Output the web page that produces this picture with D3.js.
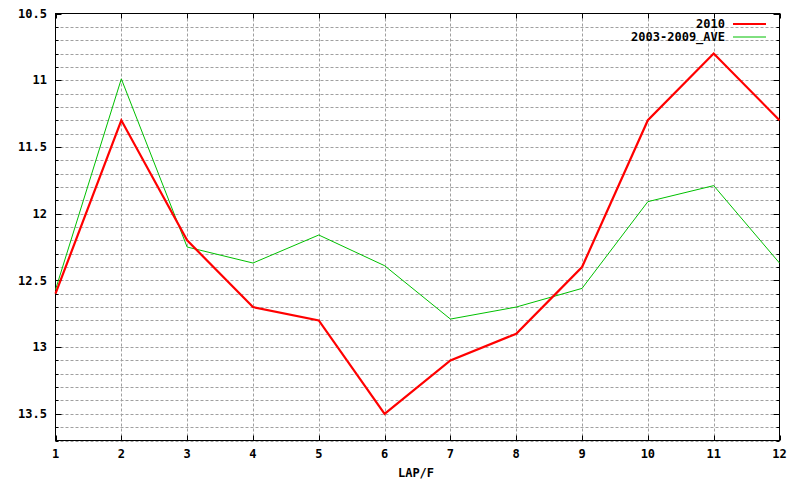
<!DOCTYPE html>
<html><head><meta charset="utf-8">
<script src="https://cdn.jsdelivr.net/npm/d3@7"></script>
<style>body{margin:0;background:#fff}text{font-family:"DejaVu Sans Mono",monospace;font-weight:bold;font-size:12px;fill:#000}</style>
</head><body><svg id="c" width="800" height="480"></svg>
<script>
const laps = [1,2,3,4,5,6,7,8,9,10,11,12];
const s2010 = [12.6,11.3,12.2,12.7,12.8,13.5,13.1,12.9,12.4,11.3,10.8,11.3];
const sAve = [12.57,10.99,12.25,12.37,12.16,12.39,12.79,12.70,12.56,11.91,11.79,12.37];
const yTicks = [10.5,11,11.5,12,12.5,13,13.5];
const seriesNames = ["2010","2003-2009_AVE"];

const svg = d3.select("#c");
const L=55.5, R=779.5, T=13.5, B=440.5;
const x = d3.scaleLinear().domain([1,12]).range([L,R]);
const y = d3.scaleLinear().domain([10.5,13.7]).range([T,B]);
const minor = d3.range(105,138).map(v=>v/10);

const g = svg.append("g");
// grid
g.selectAll(".hg").data(minor.filter(v=>v>10.5)).enter().append("line")
 .attr("x1",L).attr("x2",R).attr("y1",d=>Math.round(y(d))+0.5).attr("y2",d=>Math.round(y(d))+0.5)
 .attr("stroke","#a0a0a0").attr("stroke-dasharray","3,2");
g.selectAll(".vg").data(laps.slice(1,-1)).enter().append("line")
 .attr("y1",T).attr("y2",B).attr("x1",d=>Math.round(x(d))+0.5).attr("x2",d=>Math.round(x(d))+0.5)
 .attr("stroke","#a0a0a0").attr("stroke-dasharray","3,2");
// ticks
minor.forEach(v=>{
  const yy=Math.round(y(v))+0.5, len = yTicks.includes(v)?6:3;
  g.append("line").attr("x1",L).attr("x2",L+len).attr("y1",yy).attr("y2",yy).attr("stroke","#000");
  g.append("line").attr("x1",R-len).attr("x2",R).attr("y1",yy).attr("y2",yy).attr("stroke","#000");
});
laps.forEach(v=>{
  const xx=Math.round(x(v))+0.5;
  g.append("line").attr("x1",xx).attr("x2",xx).attr("y1",B).attr("y2",B-5).attr("stroke","#000");
  g.append("line").attr("x1",xx).attr("x2",xx).attr("y1",T).attr("y2",T+5).attr("stroke","#000");
});
// frame
g.append("rect").attr("x",L).attr("y",T).attr("width",R-L).attr("height",B-T).attr("fill","none").attr("stroke","#000");
// labels
g.selectAll(".yl").data(yTicks).enter().append("text")
 .attr("x",47).attr("y",d=>y(d)).attr("dy","0.35em").attr("text-anchor","end").text(d=>d);
g.selectAll(".xl").data(laps).enter().append("text")
 .attr("x",d=>x(d)).attr("y",454).attr("dy","0.35em").attr("text-anchor","middle").text(d=>d);
g.append("text").attr("x",416).attr("y",473).attr("dy","0.35em").attr("text-anchor","middle").text("LAP/F");

// lines
const line = d3.line().x((d,i)=>x(laps[i])).y(d=>y(d));
g.append("path").attr("d",line(sAve)).attr("fill","none").attr("stroke","#00c000").attr("stroke-width",1);
g.append("path").attr("d",line(s2010)).attr("fill","none").attr("stroke","#ff0000").attr("stroke-width",2.2);

// legend
const leg = [{n:seriesNames[0],c:"#ff0000",w:2.2,yy:24},{n:seriesNames[1],c:"#00c000",w:1,yy:37}];
leg.forEach(l=>{
  g.append("text").attr("x",725).attr("y",l.yy).attr("dy","0.35em").attr("text-anchor","end").text(l.n);
  g.append("line").attr("x1",733).attr("x2",766).attr("y1",l.yy).attr("y2",l.yy).attr("stroke",l.c).attr("stroke-width",l.w);
});
</script></body></html>
